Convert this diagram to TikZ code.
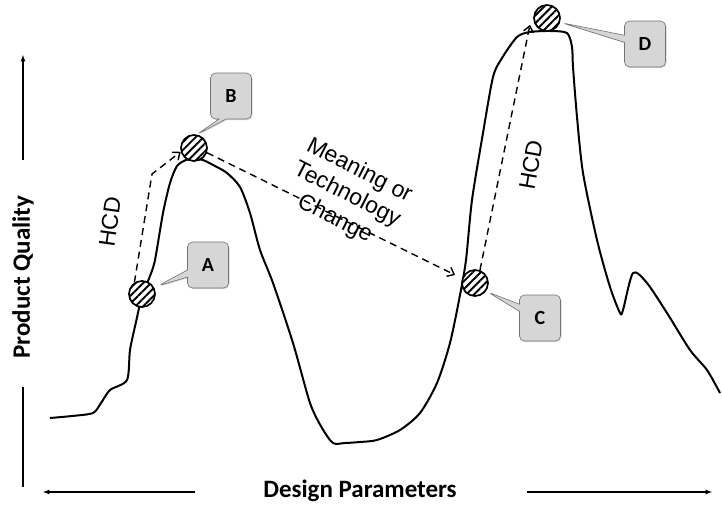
\documentclass[tikz,border=0pt]{standalone}
\usepackage{fontspec}
\newfontfamily\calibri{Carlito}
\newfontfamily\arial{Liberation Sans}
\usetikzlibrary{calc}
\usetikzlibrary{arrows,arrows.meta}
\usetikzlibrary{patterns.meta}
\usetikzlibrary{shapes.callouts}
\usetikzlibrary{shadows}
\tikzset{
	every path/.style={thick},
	hatched/.style={circle,draw,line width=1.7pt,minimum size=26pt,inner sep=0pt,
		preaction={fill=white},pattern={Lines[angle=45,distance=5.5pt,line width=1.9pt]}},
	tag/.style={rectangle callout,draw=black!55,line width=0.6pt,fill=black!16,rounded corners=5pt,
		minimum width=41pt,minimum height=46pt,inner sep=0pt,
		font=\calibri\bfseries\fontsize{20}{24}\selectfont,
		drop shadow={shadow xshift=1pt,shadow yshift=-1pt,opacity=0.3}},
	move/.style={dash pattern=on 7pt off 5pt,line width=1.4pt,-{Straight Barb[length=6pt,width=10pt]}},
	hand/.style={line width=2pt,line join=round},
	axis/.style={line width=1.2pt},
	label/.style={font=\calibri\bfseries\fontsize{25}{29}\selectfont},
	note/.style={font=\arial\fontsize{23}{27}\selectfont},
}

\begin{document}
\begin{tikzpicture}[x=1pt,y=-1pt]
	\useasboundingbox (0,0) rectangle (722,504);

	%y axis.....................
	\draw [axis,-latex] (23,160) to (23,55);
	\draw [axis] (23,387) to (23,487);
	\node [label,rotate=90] (quality) at (23,277) {Product Quality};

	%x axis......................
	\draw [axis,-latex] (195,492) to (43,492);
	\draw [axis,-latex] (527,492) to (712,492);
	\node [label] (params) at (360,491) {Design Parameters};

	% quality curve...................
	\draw [hand] plot [smooth,tension=0.45] coordinates {
		(50,418) (72,416) (93,413) (101,403) (110,390) (127,380) (130,350)
		(136,322) (142,296) (150,276) (155,260) (163,213) (170,183) (177,166)
		(186,160) (195,159) (203,160) (215,166) (227,173) (240,187) (250,213)
		(260,250) (273,283) (293,343) (310,403) (322,428) (333,443) (345,443)
		(360,442) (377,440) (400,430) (420,413) (437,383) (450,343) (460,295)
		(466,260) (472,200) (483,133) (493,77) (502,58) (517,37) (530,32)
		(550,31) (567,33) (572,47) (573,67) (577,117) (583,173) (597,240)
		(610,287) (620,313) (623,310) (633,273) (647,283) (667,313) (690,350)
		(707,370) (720,393)};

	% points on the curve....................
	\node [hatched] (ca) at (142,294) {};
	\node [hatched] (cb) at (194,148) {};
	\node [hatched] (cc) at (475,283) {};
	\node [hatched] (cd) at (547,18) {};

	% moves....................
	\coordinate (kink) at (152,174);
	\draw [move] (ca.123) -- (kink) -- (cb.196);
	\draw [move] (cb.-20) -- ($(cc)!1.55!(cc.158)$);
	\draw [move] (cc.69) -- ($(cd)!1.33!(cd.202)$);
	\node [note,rotate=82] (hcdl) at (110,222) {HCD};
	\node [note,rotate=80] (hcdr) at (531,165) {HCD};
	\node [note,rotate=-27,align=center] (change) at (347,195) {Meaning or\\Technology\\Change};

	% tags....................
	\node [tag,callout absolute pointer={($(ca)!1.3!(ca.27)$)}] (ta) at (208,265) {A};
	\node [tag,callout absolute pointer={(cb.78)}] (tb) at (231,96) {B};
	\node [tag,callout absolute pointer={($(cc)!1.15!(cc.-35)$)}] (tc) at (540,318) {C};
	\node [tag,callout absolute pointer={($(cd)!1.15!(cd.-18)$)}] (td) at (645,44) {D};

\end{tikzpicture}
\end{document}
